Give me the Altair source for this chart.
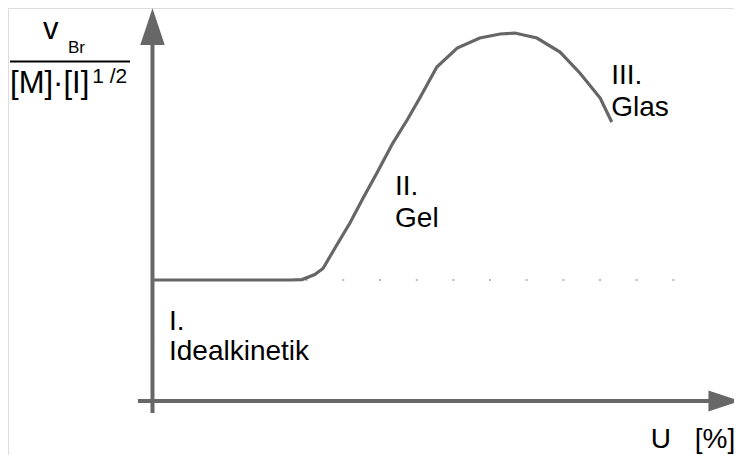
import altair as alt
import pandas as pd

# --- data (U in %, v in arbitrary units; flat ideal-kinetics level = 1) ---
curve_u = [0, 25.0, 27.2, 29.5, 31.0, 33.4, 35.9, 38.3, 40.8, 43.7, 46.3, 48.6,
           51.7, 55.4, 59.5, 63.2, 65.9, 69.9, 74.1, 77.7, 81.4, 83.5]
curve_v = [1.0, 1.0, 1.004, 1.045, 1.095, 1.281, 1.471, 1.678, 1.884, 2.132, 2.322, 2.504,
           2.760, 2.917, 3.0, 3.033, 3.041, 3.0, 2.884, 2.711, 2.504, 2.306]

ref_u = [27.85, 95.05]
ref_v = [1.0, 1.0]

label_text = ["I.", "Idealkinetik", "II.", "Gel", "III.", "Glas", "U", "[%]"]
label_u = [3.0, 3.0, 44.1, 44.1, 83.4, 83.4, 90.6, 98.6]
label_v = [0.591, 0.339, 1.702, 1.440, 2.620, 2.355, -0.385, -0.385]

XMIN, XMAX = -26.27, 105.73
YMIN, YMAX = -0.446, 3.248

xs = alt.Scale(domain=[XMIN, XMAX], nice=False, zero=False)
ys = alt.Scale(domain=[YMIN, YMAX], nice=False, zero=False)

GRAY = "#676767"

curve_df = pd.DataFrame({"u": curve_u, "v": curve_v, "o": range(len(curve_u))})
ref_df = pd.DataFrame({"u": [ref_u[0]], "u2": [ref_u[1]], "v": [ref_v[0]]})
lab_df = pd.DataFrame({"u": label_u, "v": label_v, "t": label_text})

X = lambda f: alt.X(f, type="quantitative", scale=xs, axis=None)
Y = lambda f: alt.Y(f, type="quantitative", scale=ys, axis=None)

# axes drawn as arrows
yaxis_df = pd.DataFrame({"u": [0.0], "v": [-0.099], "v2": [2.942]})
xaxis_df = pd.DataFrame({"u": [-2.64], "u2": [101.4], "v": [0.0]})
yarrow_df = pd.DataFrame({"u": [0.0], "v": [3.095]})
xarrow_df = pd.DataFrame({"u": [103.95], "v": [0.0]})

yaxis = alt.Chart(yaxis_df).mark_rule(color=GRAY, strokeWidth=4).encode(
    x=X("u"), y=Y("v"), y2="v2")
xaxis = alt.Chart(xaxis_df).mark_rule(color=GRAY, strokeWidth=4).encode(
    x=X("u"), x2="u2", y=Y("v"))
yarrow = alt.Chart(yarrow_df).mark_point(
    shape="M0,-1.5L1,1.5L-1,1.5Z", filled=True, opacity=1, color=GRAY, size=600
).encode(x=X("u"), y=Y("v"))
xarrow = alt.Chart(xarrow_df).mark_point(
    shape="M1.5,0L-1.5,-1L-1.5,1Z", filled=True, opacity=1, color=GRAY, size=441
).encode(x=X("u"), y=Y("v"))

dotted = alt.Chart(ref_df).mark_rule(
    color="#a0a0a0", strokeWidth=1.5, strokeDash=[2, 34.67]
).encode(x=X("u"), x2="u2", y=Y("v"))

curve = alt.Chart(curve_df).mark_line(color="#666666", strokeWidth=3.2).encode(
    x=X("u"), y=Y("v"), order="o")

labels = alt.Chart(lab_df).mark_text(
    align="left", baseline="alphabetic", font="Liberation Sans", fontSize=28, color="black"
).encode(x=X("u"), y=Y("v"), text="t")

# y-axis title as a fraction
frac_df = pd.DataFrame({"u": [-25.9], "u2": [-4.09], "v": [2.806]})
frac_line = alt.Chart(frac_df).mark_rule(color="black", strokeWidth=2).encode(
    x=X("u"), x2="u2", y=Y("v"))

ttl_text = ["v", "Br", "[M]·[I]", "1 /2"]
ttl_u = [-19.9, -15.36, -25.9, -10.95]
ttl_v = [2.99, 2.877, 2.545, 2.625]
ttl_size = [31, 17, 31, 21]
ttl_df = pd.DataFrame({"u": ttl_u, "v": ttl_v, "t": ttl_text, "s": ttl_size})
ttl = alt.Chart(ttl_df).mark_text(
    align="left", baseline="alphabetic", font="Liberation Sans", color="black"
).encode(x=X("u"), y=Y("v"), text="t",
         size=alt.Size("s", type="quantitative", scale=None, legend=None))

chart = alt.layer(
    dotted, curve, yaxis, xaxis, yarrow, xarrow, labels, frac_line, ttl
).properties(
    width=726, height=447, padding=0, autosize=alt.AutoSizeParams(type="none")
).configure_view(strokeWidth=0).configure(background="white")

chart.save("out.html", embed_options={"renderer": "svg", "actions": False})
